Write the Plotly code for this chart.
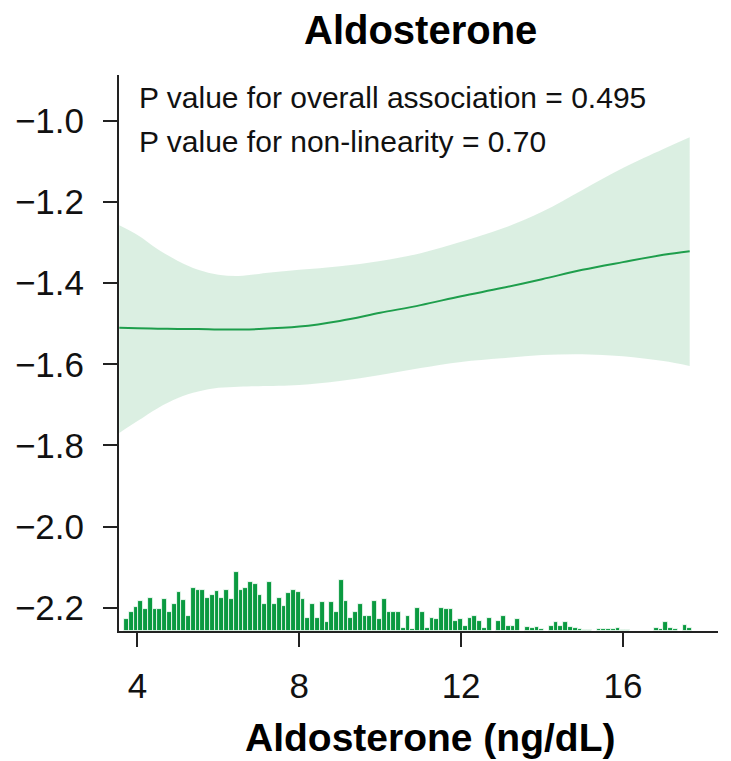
import plotly.graph_objects as go

# Fitted spline for aldosterone (x in ng/dL) with 95% confidence band
fit_x = [3.55, 4.0, 4.5, 5.0, 5.5, 6.0, 6.5, 7.0, 8.0, 9.0, 10.0, 11.0,
         12.0, 13.0, 14.0, 15.0, 16.0, 17.0, 17.65]
fit_y = [-1.510, -1.511, -1.512, -1.513, -1.513, -1.514, -1.514, -1.513,
         -1.507, -1.493, -1.473, -1.454, -1.432, -1.412, -1.390, -1.367,
         -1.348, -1.330, -1.321]
ci_upper = [-1.257, -1.281, -1.316, -1.345, -1.367, -1.379, -1.382, -1.377,
            -1.367, -1.358, -1.345, -1.326, -1.298, -1.266, -1.224, -1.170,
            -1.116, -1.069, -1.040]
ci_lower = [-1.769, -1.740, -1.708, -1.683, -1.667, -1.658, -1.655, -1.654,
            -1.651, -1.641, -1.626, -1.609, -1.594, -1.585, -1.577, -1.575,
            -1.580, -1.592, -1.604]

# Distribution of aldosterone values (histogram counts, equal-width bins)
bin_start = 3.667
bin_width = 0.118
hist_counts = [12, 19, 24, 30, 22, 33, 22, 22, 32, 19, 27, 39, 31, 15, 43,
               41, 41, 33, 36, 40, 33, 41, 32, 59, 41, 43, 49, 47, 36, 27,
               49, 27, 33, 25, 38, 41, 39, 32, 13, 27, 13, 29, 9, 29, 19,
               51, 30, 13, 19, 27, 15, 15, 30, 12, 32, 19, 19, 19, 3, 15,
               2, 23, 19, 3, 13, 12, 23, 22, 22, 10, 12, 5, 13, 15, 10,
               3, 13, 0, 10, 15, 5, 5, 12,
               0, 4, 3, 4, 2, 0, 5, 9, 5, 9, 4, 3, 2, 1, 1, 0, 2, 2,
               2, 2, 3, 1, 1, 0, 0, 0, 0, 0, 3, 2, 9, 3, 2, 0, 6, 3]
hist_centers = [bin_start + bin_width * (i + 0.5) for i in range(len(hist_counts))]

x_ticks = [4, 8, 12, 16]
y_ticks = [-2.2, -2.0, -1.8, -1.6, -1.4, -1.2, -1.0]

p_overall = "0.495"
p_nonlinear = "0.70"

LINE_GREEN = "#1E9E4C"
BAR_GREEN = "#0A9A40"
BAND_GREEN = "rgba(30,158,76,0.16)"
FONT = "Liberation Sans, Arial, Helvetica, sans-serif"

fig = go.Figure()

# Confidence band: lower bound, then upper bound filled down to it
fig.add_trace(go.Scatter(
    x=fit_x, y=ci_lower, mode="lines",
    line=dict(width=0, shape="spline"), hoverinfo="skip", showlegend=False))
fig.add_trace(go.Scatter(
    x=fit_x, y=ci_upper, mode="lines", fill="tonexty", fillcolor=BAND_GREEN,
    line=dict(width=0, shape="spline"), hoverinfo="skip", showlegend=False))

# Point estimate
fig.add_trace(go.Scatter(
    x=fit_x, y=fit_y, mode="lines",
    line=dict(color=LINE_GREEN, width=2, shape="spline"),
    showlegend=False))

# Histogram along the bottom of the panel
fig.add_trace(go.Bar(
    x=hist_centers, y=hist_counts, width=bin_width, yaxis="y2",
    marker=dict(color=BAR_GREEN, line=dict(color="white", width=0.8)),
    showlegend=False))

axis_common = dict(
    showgrid=False, zeroline=False, showline=True, linecolor="#222222",
    linewidth=2, ticks="outside", ticklen=14, tickwidth=2, tickcolor="#222222",
    tickfont=dict(family=FONT, size=35, color="#111111"), mirror=False)

fig.update_layout(
    width=731, height=761,
    margin=dict(l=119, r=13, t=75, b=130),
    paper_bgcolor="white", plot_bgcolor="white",
    bargap=0,
    xaxis=dict(range=[3.543, 18.35], tickvals=x_ticks,
               ticktext=[str(v) for v in x_ticks], ticklabelstandoff=9,
               **axis_common),
    yaxis=dict(range=[-2.2575, -0.8866], tickvals=y_ticks,
               tickformat=".1f", ticklabelstandoff=12, **axis_common),
    yaxis2=dict(range=[0, 556], overlaying="y", visible=False,
                fixedrange=True),
    showlegend=False,
)

fig.add_annotation(text="<b>Aldosterone</b>", xref="paper", yref="paper",
                   x=0.503, y=1 + 45 / 556, xanchor="center", yanchor="middle",
                   showarrow=False, font=dict(family=FONT, size=40, color="#000000"))
fig.add_annotation(text="<b>Aldosterone (ng/dL)</b>", xref="paper", yref="paper",
                   x=0.520, y=-106 / 556, xanchor="center", yanchor="middle",
                   showarrow=False, font=dict(family=FONT, size=39, color="#000000"))
fig.add_annotation(text=f"P value for overall association = {p_overall}",
                   xref="paper", yref="paper", x=0.030, y=0.960,
                   xanchor="left", yanchor="middle", showarrow=False,
                   font=dict(family=FONT, size=30, color="#111111"))
fig.add_annotation(text=f"P value for non-linearity = {p_nonlinear}",
                   xref="paper", yref="paper", x=0.030, y=0.881,
                   xanchor="left", yanchor="middle", showarrow=False,
                   font=dict(family=FONT, size=30, color="#111111"))

fig.write_html("out.html")
